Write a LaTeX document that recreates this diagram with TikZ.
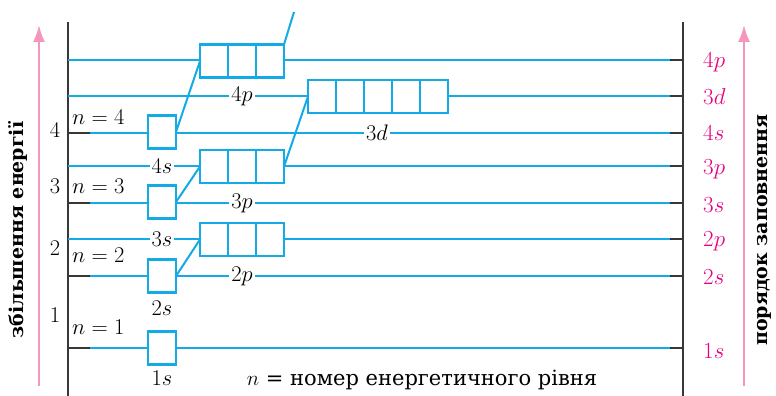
\documentclass[tikz,border=0pt]{standalone}
\usepackage{fix-cm}
\usepackage{fontspec}
\setmainfont{DejaVu Serif}
\usetikzlibrary{arrows.meta,calc}
\definecolor{orbblue}{RGB}{20,170,230}
\definecolor{arrowpink}{RGB}{244,150,190}
\definecolor{ordermag}{RGB}{230,0,126}
\definecolor{axisgray}{RGB}{55,55,55}
\tikzset{
  level/.style={orbblue,line width=1.2pt},
  stub/.style={axisgray,line width=1.2pt},
  axis/.style={axisgray,line width=1.3pt},
  cell/.style={draw=orbblue,line width=2.4pt,fill=white,minimum height=33pt,
    inner sep=0pt,outer sep=0pt},
  onecell/.style={cell,minimum width=28pt},
  threecell/.style={cell,minimum width=84pt},
  fivecell/.style={cell,minimum width=140pt},
  divider/.style={orbblue,line width=2.4pt},
  link/.style={orbblue,line width=2pt},
  labelfont/.style={font=\fontsize{22.5}{26}\selectfont},
  sublabel/.style={labelfont,fill=white,inner sep=2pt},
  nlabel/.style={labelfont,anchor=west,inner sep=0pt},
  digit/.style={labelfont,inner sep=0pt},
  orderlabel/.style={anchor=west,inner sep=0pt,text=ordermag,
    font=\fontsize{23}{26}\selectfont},
  sidetitle/.style={rotate=90,inner sep=0pt,font=\bfseries\fontsize{19}{22}\selectfont},
  energyarrow/.style={arrowpink,line width=2pt,-{Latex[length=17pt,width=12pt]}}
}
\begin{document}
\begin{tikzpicture}[x=1pt,y=-1pt]
\useasboundingbox (0,0) rectangle (776,396);

% side axes
\draw[axis] (68,22) -- (68,396);
\draw[axis] (683,22) -- (683,396);

% energy levels
\foreach \yy in {60,96,133,166,203,239,276,348}{
  \draw[level] (68,\yy) -- (683,\yy);
  \draw[stub] (670,\yy) -- (683,\yy);
}
\foreach \yy in {133,203,276,348}{
  \draw[stub] (68,\yy) -- (90,\yy);
}

% orbital cells
\node[onecell] (s1) at (162,348) {};
\node[onecell] (s2) at (162,276) {};
\node[onecell] (s3) at (162,202) {};
\node[onecell] (s4) at (162,132) {};
\node[threecell] (p2) at (242,239.5) {};
\node[threecell] (p3) at (242,166.5) {};
\node[threecell] (p4) at (242,61) {};
\node[fivecell] (d3) at (378,96.5) {};

\foreach \cellrow in {p2,p3,p4}{
  \foreach \k in {1,2}{
    \draw[divider] ($(\cellrow.north west)!\k/3!(\cellrow.north east)$) --
                   ($(\cellrow.south west)!\k/3!(\cellrow.south east)$);
  }
}
\foreach \k in {1,2,3,4}{
  \draw[divider] ($(d3.north west)!\k/5!(d3.north east)$) --
                 ($(d3.south west)!\k/5!(d3.south east)$);
}

% filling path
\coordinate (exit) at (294,12);
\draw[link] (s2.east) -- (p2.west);
\draw[link] (s3.east) -- (p3.west);
\draw[link] (s4.east) -- (p4.west);
\draw[link] (p3.east) -- (d3.west);
\draw[link] (p4.north east) -- (exit);

% sublevel labels
\node[sublabel] (l1s) at (162,378) {$1s$};
\node[sublabel] (l2s) at (162,308) {$2s$};
\node[sublabel] (l3s) at (162,239) {$3s$};
\node[sublabel] (l4s) at (162,166) {$4s$};
\node[sublabel] (l2p) at (242,276) {$2p$};
\node[sublabel] (l3p) at (242,203) {$3p$};
\node[sublabel] (l4p) at (242,96) {$4p$};
\node[sublabel] (l3d) at (377,133) {$3d$};

% shell numbers
\node[digit] (d4) at (55,130) {$4$};
\node[digit] (d3n) at (55,186) {$3$};
\node[digit] (d2) at (55,248) {$2$};
\node[digit] (d1) at (55,315) {$1$};
\node[nlabel] (n4) at (72,117) {$n = 4$};
\node[nlabel] (n3) at (72,186) {$n = 3$};
\node[nlabel] (n2) at (72,255) {$n = 2$};
\node[nlabel] (n1) at (72,327) {$n = 1$};

% filling order
\node[orderlabel] (o4p) at (703,62) {$4p$};
\node[orderlabel] (o3d) at (703,97) {$3d$};
\node[orderlabel] (o4s) at (703,133) {$4s$};
\node[orderlabel] (o3p) at (703,169) {$3p$};
\node[orderlabel] (o3s) at (703,205) {$3s$};
\node[orderlabel] (o2p) at (703,241) {$2p$};
\node[orderlabel] (o2s) at (703,277) {$2s$};
\node[orderlabel] (o1s) at (703,351) {$1s$};

% legend
\node[inner sep=0pt,font=\fontsize{21}{24}\selectfont] (legend) at (422,380)
  {$n$ = номер енергетичного рівня};

% arrows and side titles
\coordinate (la0) at (39,386);
\coordinate (la1) at (39,25);
\coordinate (ra0) at (744,386);
\coordinate (ra1) at (744,25);
\draw[energyarrow] (la0) -- (la1);
\draw[energyarrow] (ra0) -- (ra1);
\node[sidetitle] (ltitle) at (18,230) {збільшення енергії};
\node[sidetitle] (rtitle) at (764,230) {порядок заповнення};
\end{tikzpicture}
\end{document}
